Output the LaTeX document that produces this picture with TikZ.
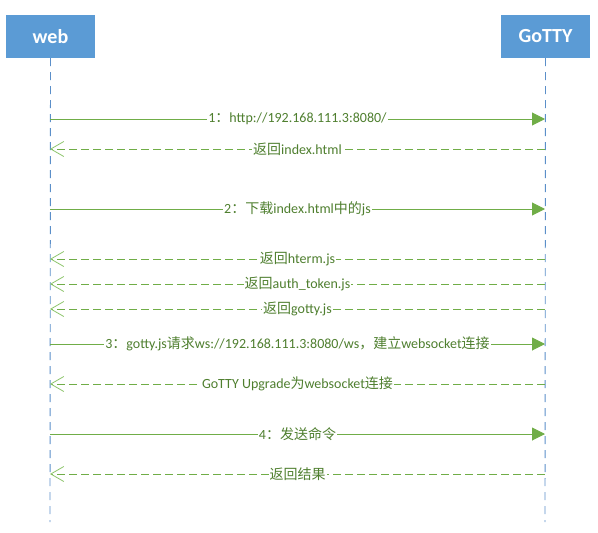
\documentclass[tikz,border=0pt]{standalone}
\usepackage{fontspec}
\setmainfont{Carlito}
\newfontfamily\cjk{Noto Sans CJK SC}
\usetikzlibrary{arrows.meta}
\definecolor{boxblue}{HTML}{5B9BD5}
\definecolor{lifeblue}{HTML}{5B8FC9}
\definecolor{msggreen}{HTML}{70AD47}
\definecolor{txtgreen}{HTML}{4F7F2F}
\definecolor{tipgreen}{HTML}{8CC46A}
\tikzset{
  actor/.style={fill=boxblue, draw=none, minimum width=89pt, minimum height=43pt, text=white, font=\bfseries\fontsize{20}{20}\selectfont, inner sep=0pt},
  lifeline/.style={draw=lifeblue, line width=0.9pt, dash pattern=on 8pt off 6pt},
  callmsg/.style={draw=msggreen, line width=1pt, -{Triangle[length=13pt,width=13pt,fill=msggreen]}},
  retmsg/.style={draw=msggreen, line width=1pt, dash pattern=on 8pt off 4pt, -{Straight Barb[length=13pt,width=15pt,line width=0.8pt,color=tipgreen]}},
  msglabel/.style={fill=white, text=txtgreen, inner xsep=1pt, inner ysep=0pt, font=\fontsize{14}{15}\selectfont}
}
\begin{document}
\begin{tikzpicture}[x=1pt,y=-1pt]
\useasboundingbox (0,0) rectangle (598,533);
\node[actor] (web) at (50.5,36.5) {web};
\node[actor] (gotty) at (545.5,36.5) {GoTTY};
\coordinate (webend) at (50,522);
\coordinate (gottyend) at (545,522);
\draw[lifeline] (web.south) -- (webend);
\draw[lifeline] (gotty.south) -- (gottyend);
\foreach \n/\y in {1/119,2/149,3/209,4/259,5/284,6/309,7/344,8/384,9/434,10/474}{
  \coordinate (w\n) at (50,\y);
  \coordinate (g\n) at (545,\y);
}
\draw[callmsg] (w1) -- node[msglabel]{1{\cjk ：}http://192.168.111.3:8080/} (g1);
\draw[retmsg] (g2) -- node[msglabel]{{\cjk 返回}index.html} (w2);
\draw[callmsg] (w3) -- node[msglabel]{2{\cjk ：下载}index.html{\cjk 中的}js} (g3);
\draw[retmsg] (g4) -- node[msglabel]{{\cjk 返回}hterm.js} (w4);
\draw[retmsg] (g5) -- node[msglabel]{{\cjk 返回}auth\_token.js} (w5);
\draw[retmsg] (g6) -- node[msglabel]{{\cjk 返回}gotty.js} (w6);
\draw[callmsg] (w7) -- node[msglabel]{3{\cjk ：}gotty.js{\cjk 请求}ws://192.168.111.3:8080/ws{\cjk ，建立}websocket{\cjk 连接}} (g7);
\draw[retmsg] (g8) -- node[msglabel]{GoTTY Upgrade{\cjk 为}websocket{\cjk 连接}} (w8);
\draw[callmsg] (w9) -- node[msglabel]{4{\cjk ：发送命令}} (g9);
\draw[retmsg] (g10) -- node[msglabel]{{\cjk 返回结果}} (w10);
\end{tikzpicture}
\end{document}
